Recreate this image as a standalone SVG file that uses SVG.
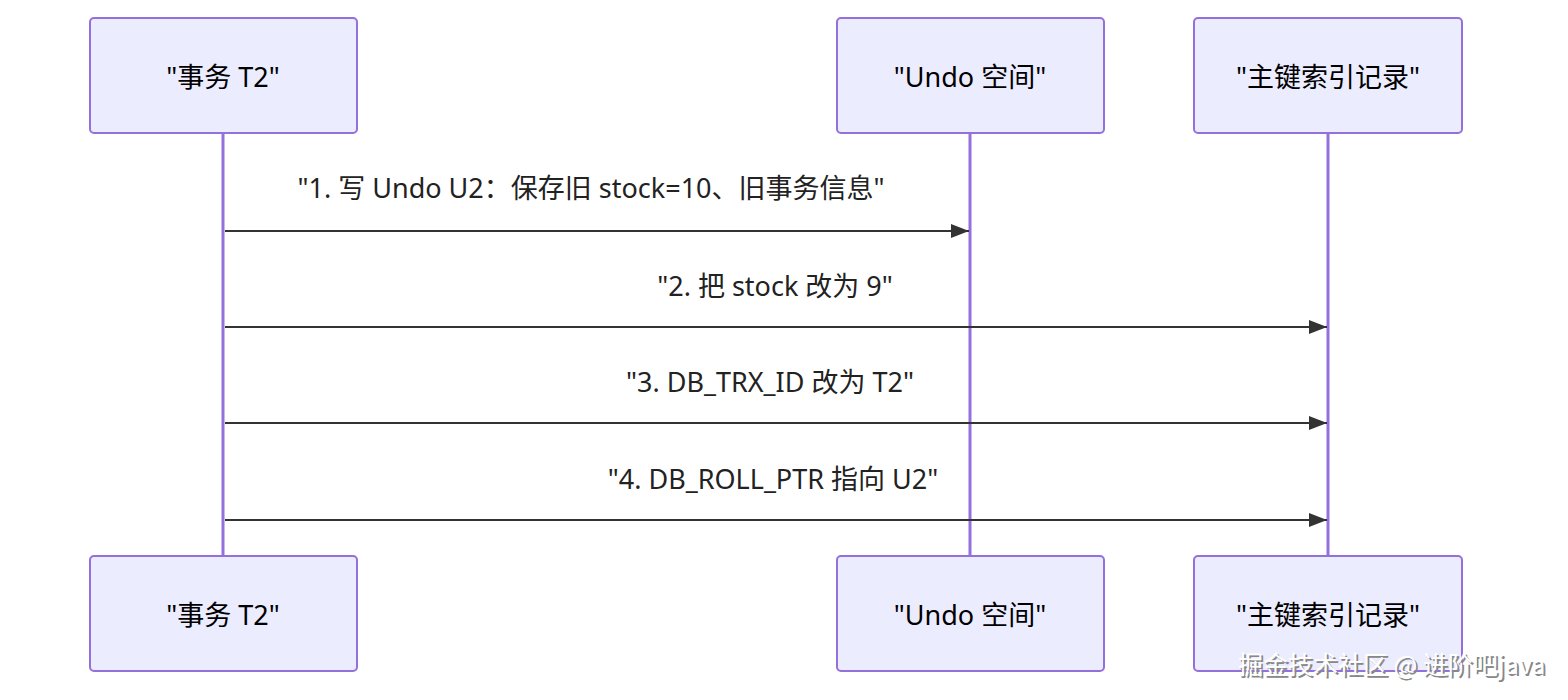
<svg xmlns="http://www.w3.org/2000/svg" width="1568" height="700" viewBox="0 0 1568 700">
<style>
.actor{fill:#ECECFF;stroke:#9370DB;stroke-width:2}
.atext{font-family:"Noto Sans","Noto Sans CJK SC",sans-serif;font-size:27px;fill:#000;text-anchor:middle;dominant-baseline:central}
.life{stroke:#9370DB;stroke-width:3}
.msg{stroke:#333;stroke-width:2;fill:none}
.mtext{font-family:"Noto Sans","Noto Sans CJK SC",sans-serif;font-size:27px;fill:#222;text-anchor:middle;dominant-baseline:central}
.wm{font-family:"Noto Sans CJK SC",sans-serif;font-size:25px;text-anchor:start;dominant-baseline:central}
</style>
<defs>
<marker id="arrow" viewBox="0 0 18 14" refX="18" refY="7" markerWidth="18" markerHeight="14" markerUnits="userSpaceOnUse" orient="auto">
<path d="M0,0 L18,7 L0,14 Z" fill="#333"/>
</marker>
</defs>
<rect width="1568" height="700" fill="#fff"/>
<g id="lifelines">
<line class="life" x1="223" y1="133" x2="223" y2="556"/>
<line class="life" x1="970" y1="133" x2="970" y2="556"/>
<line class="life" x1="1328" y1="133" x2="1328" y2="556"/>
</g>
<g id="actor-t2-top"><rect class="actor" x="90" y="18" width="267" height="115" rx="4"/><text class="atext" x="223" y="76">"事务 T2"</text></g>
<g id="actor-undo-top"><rect class="actor" x="837" y="18" width="267" height="115" rx="4"/><text class="atext" x="970" y="76">"Undo 空间"</text></g>
<g id="actor-rec-top"><rect class="actor" x="1194" y="18" width="268" height="115" rx="4"/><text class="atext" x="1328" y="76">"主键索引记录"</text></g>
<g id="actor-t2-bottom"><rect class="actor" x="90" y="556" width="267" height="115" rx="4"/><text class="atext" x="223" y="614">"事务 T2"</text></g>
<g id="actor-undo-bottom"><rect class="actor" x="837" y="556" width="267" height="115" rx="4"/><text class="atext" x="970" y="614">"Undo 空间"</text></g>
<g id="actor-rec-bottom"><rect class="actor" x="1194" y="556" width="268" height="115" rx="4"/><text class="atext" x="1328" y="614">"主键索引记录"</text></g>
<g id="connectors">
<line class="msg" x1="225" y1="231" x2="969" y2="231" marker-end="url(#arrow)"/>
<text class="mtext" x="591" y="187">"1. 写 Undo U2：保存旧 stock=10、旧事务信息"</text>
<line class="msg" x1="225" y1="327" x2="1327" y2="327" marker-end="url(#arrow)"/>
<text class="mtext" x="775" y="285">"2. 把 stock 改为 9"</text>
<line class="msg" x1="225" y1="423" x2="1327" y2="423" marker-end="url(#arrow)"/>
<text class="mtext" x="770" y="381">"3. DB_TRX_ID 改为 T2"</text>
<line class="msg" x1="225" y1="520" x2="1327" y2="520" marker-end="url(#arrow)"/>
<text class="mtext" x="773" y="478">"4. DB_ROLL_PTR 指向 U2"</text>
</g>
<g id="watermark">
<text class="wm" x="1240" y="665" fill="#888">掘金技术社区 @ 进阶吧java</text>
<text class="wm" x="1238" y="663" fill="#fff">掘金技术社区 @ 进阶吧java</text>
</g>
</svg>
